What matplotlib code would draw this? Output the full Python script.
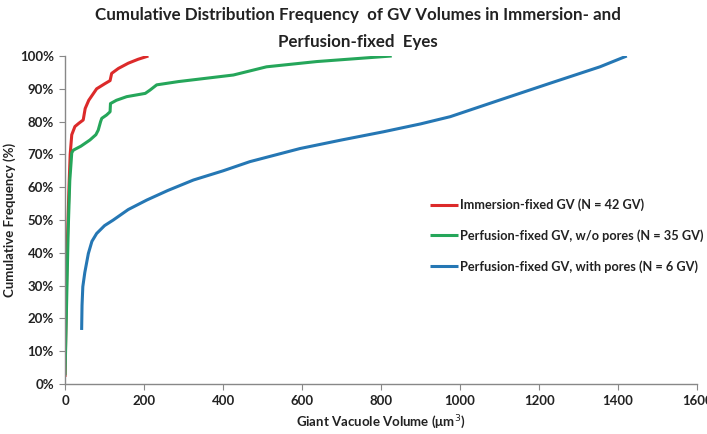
import matplotlib
matplotlib.use("Agg")
import matplotlib.pyplot as plt
from matplotlib.ticker import FuncFormatter

plt.rcParams['font.family'] = ['Lato', 'DejaVu Sans']

# immersion-fixed GV (N = 42)
red_x = [0, 5, 10, 13, 17, 25, 35, 46, 51, 60, 80, 100, 114, 118, 135, 160, 185, 211]
red_y = [2.2, 40, 60, 70, 76, 78.5, 79.5, 80.5, 84, 86.5, 90, 91.5, 92.5, 94.7, 96.2, 97.8, 99, 100]

# perfusion-fixed GV, w/o pores (N = 35)
green_x = [0, 4, 8, 12, 17, 21, 40, 63, 78, 84, 90, 93, 105, 114, 115, 130, 156, 203,
           215, 232, 287, 426, 510, 637, 827]
green_y = [2.7, 25, 47, 62, 70.5, 71.3, 72.5, 74.4, 76, 77.4, 80, 81, 82, 83, 85.5, 86.5, 87.6, 88.6,
           89.6, 91.2, 92.2, 94.2, 96.7, 98.3, 100]

# perfusion-fixed GV, with pores (N = 6)
blue_x = [42, 43, 45, 50, 59, 68, 80, 100, 122, 160, 207, 260, 325, 400, 468, 595, 700,
          806, 900, 975, 1101, 1228, 1354, 1422]
blue_y = [16.5, 24, 29.7, 34, 39.8, 43.5, 45.9, 48.3, 50, 53.2, 56.1, 59, 62.2, 65, 67.8, 71.8, 74.4,
          76.9, 79.3, 81.5, 86.6, 91.7, 96.7, 100]

labels = ["Immersion-fixed GV (N = 42 GV)",
          "Perfusion-fixed GV, w/o pores (N = 35 GV)",
          "Perfusion-fixed GV, with pores (N = 6 GV)"]
colors = ["#dc2a2a", "#25a65a", "#2577b4"]

fig = plt.figure(figsize=(7.07, 4.34), dpi=100)
ax = fig.add_axes([0.092, 0.115, 0.894, 0.756])

for xs, ys, lab, c in zip([red_x, green_x, blue_x], [red_y, green_y, blue_y], labels, colors):
    ax.plot(xs, ys, color=c, lw=2.2, label=lab, solid_capstyle="butt")

ax.set_xlim(0, 1600)
ax.set_ylim(0, 100)
ax.set_xticks(range(0, 1601, 200))
ax.set_yticks(range(0, 101, 10))
ax.yaxis.set_major_formatter(FuncFormatter(lambda v, p: f"{int(v)}%"))

for s in ["top", "right"]:
    ax.spines[s].set_visible(False)
for s in ["left", "bottom"]:
    ax.spines[s].set_color("#888888")
    ax.spines[s].set_linewidth(1)
ax.tick_params(direction="out", length=4, color="#888888", labelsize=9.5, pad=4)
for t in ax.get_xticklabels() + ax.get_yticklabels():
    t.set_fontweight("bold")
    t.set_color("#222222")

ax.set_xlabel("Giant Vacuole Volume (μm$^3$)", fontsize=9.5, fontweight="bold", color="#222222", labelpad=4)
ax.set_ylabel("Cumulative Frequency (%)", fontsize=9.5, fontweight="bold", color="#222222", labelpad=3)

fig.text(0.506, 0.965, "Cumulative Distribution Frequency  of GV Volumes in Immersion- and",
         ha="center", va="center", fontsize=12.2, fontweight="bold", color="#222222")
fig.text(0.506, 0.903, "Perfusion-fixed  Eyes",
         ha="center", va="center", fontsize=12.2, fontweight="bold", color="#222222")

leg = ax.legend(loc="upper left", bbox_to_anchor=(0.578, 0.565), frameon=False, borderpad=0,
                borderaxespad=0, handlelength=2.2, handletextpad=0.1, labelspacing=1.4,
                prop={"weight": "bold", "size": 9.2})
for t in leg.get_texts():
    t.set_color("#222222")

fig.savefig("out.png", dpi=100)
